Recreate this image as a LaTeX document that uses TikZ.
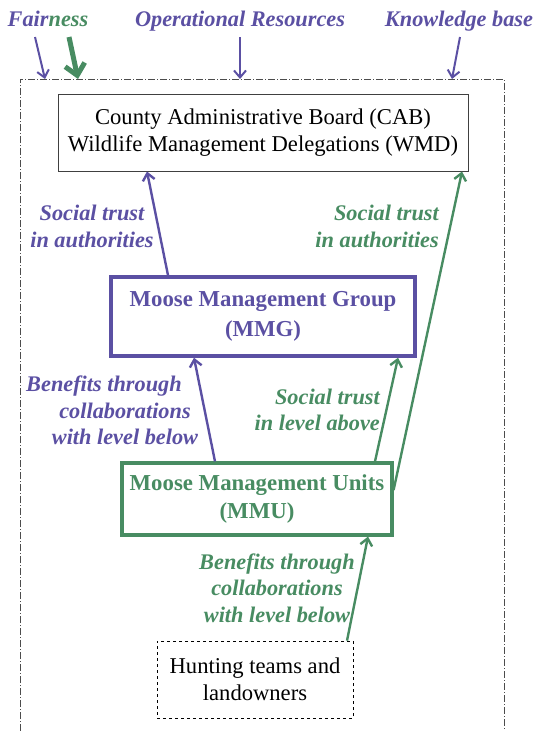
\documentclass[tikz,border=0pt]{standalone}
\usepackage{fontspec}
\setmainfont{Liberation Serif}
\usetikzlibrary{positioning,arrows.meta}
\definecolor{mgpurple}{RGB}{91,80,163}
\definecolor{mugreen}{RGB}{72,140,98}

\begin{document}
\begin{tikzpicture}[x=1pt, y=-1pt,
  >={Straight Barb[length=7pt,width=12pt]},
  box/.style={draw, rectangle, align=center, inner sep=0pt,
    font=\fontsize{22.6}{27}\selectfont},
  lbl/.style={align=center, inner sep=0pt,
    font=\fontsize{22.3}{26.5}\selectfont\bfseries\itshape},
  link/.style={->, line width=2.4pt}]

  \useasboundingbox (0,0) rectangle (536,731);

  % outer frame
  \draw[black!70, line width=0.9pt, dash pattern=on 7pt off 2pt on 1pt off 2pt]
    (20,731) |- (504,79) -- (504,731);

  % levels
  \node[box, draw=black!75, line width=1pt, minimum width=410, minimum height=77]
    (cab) at (263,132.5) {County Administrative Board (CAB)\\Wildlife Management Delegations (WMD)};
  \node[box, draw=mgpurple, text=mgpurple, line width=3.5pt, font=\fontsize{22.8}{30}\selectfont\bfseries,
    minimum width=304, minimum height=79] (mmg) at (263,316.5) {Moose Management Group\\(MMG)};
  \node[box, draw=mugreen, text=mugreen, line width=3.2pt, font=\fontsize{22.8}{28}\selectfont\bfseries,
    minimum width=270, minimum height=72] (mmu) at (257,499) {Moose Management Units\\(MMU)};
  \node[box, line width=0.8pt, dashed, minimum width=196, minimum height=77]
    (hunt) at (255,679.5) {Hunting teams and\\landowners};

  % inputs
  \node[lbl, anchor=base] (fair) at (48,26.5) {\textcolor{mgpurple}{Fair}\textcolor{mugreen}{ness}};
  \node[lbl, anchor=base, text=mgpurple] (ops) at (240,26.5) {Operational Resources};
  \node[lbl, anchor=base, text=mgpurple] (know) at (459,26.5) {Knowledge base};
  \coordinate (fairp) at (45,79);
  \coordinate (fairg) at (78,79);
  \coordinate (opsin) at (240,79);
  \coordinate (knowin) at (452,79);

  \draw[->, mgpurple, line width=2pt] ([xshift=-13pt,yshift=-10.5pt]fair.base) -- (fairp);
  \draw[-{Straight Barb[length=11pt,width=20pt]}, mugreen, line width=5pt]
    ([xshift=21pt,yshift=-10.5pt]fair.base) -- (fairg);
  \draw[->, mgpurple, line width=2pt] ([yshift=-10.5pt]ops.base) -- (opsin);
  \draw[->, mgpurple, line width=2pt] ([xshift=1pt,yshift=-10.5pt]know.base) -- (knowin);

  % links between levels
  \draw[link, mgpurple] ([xshift=-95pt]mmg.north) -- ([xshift=-116pt]cab.south);
  \draw[link, mugreen] ([yshift=9pt]mmu.east) -- ([xshift=199pt]cab.south);
  \draw[link, mgpurple] ([xshift=-42pt]mmu.north) -- ([xshift=-69pt]mmg.south);
  \draw[link, mugreen] ([xshift=118pt]mmu.north) -- ([xshift=135pt]mmg.south);
  \draw[link, mugreen] ([xshift=92pt]hunt.north) -- ([xshift=111pt]mmu.south);

  % labels
  \node[lbl, text=mgpurple] (trustcab) at (92,226.5) {Social trust\\in authorities};
  \node[lbl, text=mugreen, align=right, anchor=east] (trustcab2) at (439,226.5) {Social trust\\in authorities};
  \node[lbl, text=mgpurple] (benmmg) at (125,410.5) {Benefits through\hspace*{42pt}\\collaborations\\with level below};
  \node[lbl, text=mugreen, align=right, anchor=east] (trustmmg) at (380,410) {Social trust\\in level above};
  \node[lbl, text=mugreen] (benmmu) at (277,588) {Benefits through\\collaborations\\with level below};
\end{tikzpicture}
\end{document}
